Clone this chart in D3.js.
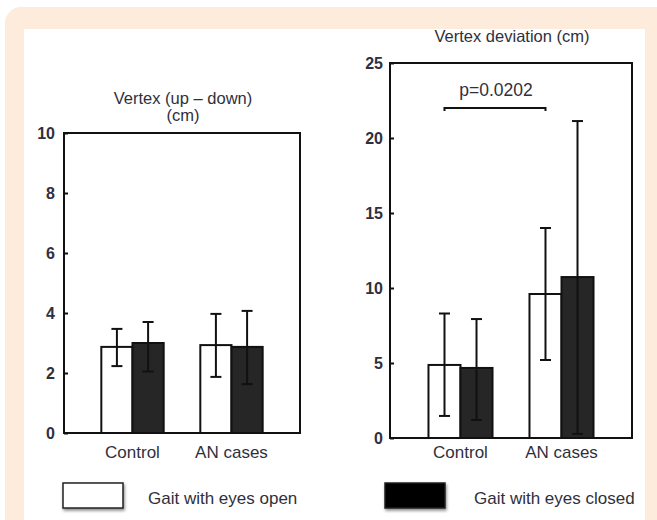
<!DOCTYPE html>
<html>
<head>
<meta charset="utf-8">
<script src="https://cdn.jsdelivr.net/npm/d3@7"></script>
<style>
  html, body { margin: 0; padding: 0; background: #ffffff; }
  svg { display: block; font-family: "Liberation Sans", Arial, sans-serif; }
</style>
</head>
<body>
<svg id="chart" width="657" height="520"></svg>
<script>
// ---------- data ----------
const categories = ["Control", "AN cases"];
const seriesNames = ["Gait with eyes open", "Gait with eyes closed"];

// Left panel: Vertex (up - down) (cm)
const upDownTicks = [0, 2, 4, 6, 8, 10];
const upDownOpen = [2.87, 2.93];
const upDownOpenLow = [2.23, 1.87];
const upDownOpenHigh = [3.47, 3.97];
const upDownClosed = [3.0, 2.87];
const upDownClosedLow = [2.05, 1.63];
const upDownClosedHigh = [3.7, 4.07];

// Right panel: Vertex deviation (cm)
const deviationTicks = [0, 5, 10, 15, 20, 25];
const deviationOpen = [4.87, 9.6];
const deviationOpenLow = [1.47, 5.2];
const deviationOpenHigh = [8.3, 14.0];
const deviationClosed = [4.67, 10.73];
const deviationClosedLow = [1.2, 0.27];
const deviationClosedHigh = [7.93, 21.13];

const pValueLabel = "p=0.0202";
const pValueLevel = 22;

// ---------- styling ----------
const textColor = "#30303c";
const darkFill = "#262626";
const seriesFill = ["#ffffff", darkFill];

const svg = d3.select("#chart");

// background frame
svg.append("rect").attr("x", 5).attr("y", 7).attr("width", 680).attr("height", 560)
  .attr("rx", 16).attr("fill", "#fdebdc");
svg.append("rect").attr("x", 24).attr("y", 29).attr("width", 621).attr("height", 520)
  .attr("fill", "#ffffff");

const defs = svg.append("defs");
const f = defs.append("filter").attr("id", "shadow").attr("x", "-20%").attr("y", "-20%")
  .attr("width", "150%").attr("height", "160%");
f.append("feDropShadow").attr("dx", 1).attr("dy", 2).attr("stdDeviation", 1.5)
  .attr("flood-color", "#000").attr("flood-opacity", 0.45);

function drawPanel(cfg) {
  const g = svg.append("g");
  const y = d3.scaleLinear().domain(cfg.domain).range([cfg.bottom, cfg.top]);
  const x0 = d3.scaleBand().domain(categories).range([cfg.left, cfg.right])
    .paddingInner(cfg.pi).paddingOuter(cfg.po);
  const x1 = d3.scaleBand().domain(seriesNames).range([0, x0.bandwidth()]);

  const rows = [];
  categories.forEach((c, i) => {
    cfg.series.forEach((s, j) => {
      rows.push({ cat: c, ser: seriesNames[j], v: s.mean[i], lo: s.low[i], hi: s.high[i], j });
    });
  });

  // bars
  g.selectAll("rect.bar").data(rows).join("rect").attr("class", "bar")
    .attr("x", d => x0(d.cat) + x1(d.ser))
    .attr("y", d => y(d.v))
    .attr("width", x1.bandwidth())
    .attr("height", d => y(0) - y(d.v))
    .attr("fill", d => seriesFill[d.j])
    .attr("stroke", "#111").attr("stroke-width", 2);

  // error bars
  const eb = g.selectAll("g.eb").data(rows).join("g").attr("class", "eb")
    .attr("transform", d => `translate(${x0(d.cat) + x1(d.ser) + x1.bandwidth() / 2},0)`);
  eb.append("line").attr("x1", 0).attr("x2", 0)
    .attr("y1", d => y(d.lo)).attr("y2", d => y(d.hi))
    .attr("stroke", "#111").attr("stroke-width", 2);
  eb.append("line").attr("x1", -5.5).attr("x2", 5.5)
    .attr("y1", d => y(d.hi)).attr("y2", d => y(d.hi))
    .attr("stroke", "#111").attr("stroke-width", 2);
  eb.append("line").attr("x1", -5.5).attr("x2", 5.5)
    .attr("y1", d => y(d.lo)).attr("y2", d => y(d.lo))
    .attr("stroke", "#111").attr("stroke-width", 2);

  // box
  g.append("rect").attr("x", cfg.left).attr("y", cfg.top)
    .attr("width", cfg.right - cfg.left).attr("height", cfg.bottom - cfg.top)
    .attr("fill", "none").attr("stroke", "#111").attr("stroke-width", 2);

  // y axis
  const ax = g.append("g").attr("transform", `translate(${cfg.left},0)`)
    .call(d3.axisLeft(y).tickValues(cfg.ticks).tickSizeInner(-4).tickSizeOuter(0)
      .tickPadding(cfg.tickPad));
  ax.select(".domain").remove();
  ax.selectAll(".tick line").attr("stroke", "#111").attr("stroke-width", 2);
  ax.selectAll(".tick text").attr("fill", textColor)
    .style("font-size", "16px").style("font-weight", "bold")
    .attr("font-family", null);

  // x labels
  g.selectAll("text.xl").data(categories).join("text").attr("class", "xl")
    .attr("x", d => x0(d) + x0.bandwidth() / 2)
    .attr("y", cfg.labelY)
    .attr("text-anchor", "middle").attr("fill", textColor)
    .style("font-size", "17px").text(d => d);

  // title
  const t = g.append("text").attr("text-anchor", "middle").attr("fill", textColor)
    .style("font-size", "16.5px");
  cfg.title.forEach((line, i) => {
    t.append("tspan").attr("x", (cfg.left + cfg.right) / 2 + 1)
      .attr("y", cfg.titleY + i * 17).text(line);
  });

  return { g, x0, x1, y };
}

drawPanel({
  left: 64, right: 300, top: 133, bottom: 433,
  domain: [0, 10], ticks: upDownTicks, tickPad: 9,
  pi: 0.37, po: 0.377, labelY: 458,
  title: ["Vertex (up \u2013 down)", "(cm)"], titleY: 104,
  series: [
    { mean: upDownOpen, low: upDownOpenLow, high: upDownOpenHigh },
    { mean: upDownClosed, low: upDownClosedLow, high: upDownClosedHigh }
  ]
});

const right = drawPanel({
  left: 390, right: 632, top: 63, bottom: 438,
  domain: [0, 25], ticks: deviationTicks, tickPad: 7,
  pi: 0.366, po: 0.381, labelY: 458,
  title: ["Vertex deviation (cm)"], titleY: 42,
  series: [
    { mean: deviationOpen, low: deviationOpenLow, high: deviationOpenHigh },
    { mean: deviationClosed, low: deviationClosedLow, high: deviationClosedHigh }
  ]
});

// significance bracket between open bars
{
  const { g, x0, x1, y } = right;
  const xa = x0(categories[0]) + x1(seriesNames[0]) + x1.bandwidth() / 2;
  const xb = x0(categories[1]) + x1(seriesNames[0]) + x1.bandwidth() / 2;
  const yy = y(pValueLevel);
  g.append("path")
    .attr("d", `M${xa},${yy + 3}L${xa},${yy}L${xb},${yy}L${xb},${yy + 3}`)
    .attr("fill", "none").attr("stroke", "#111").attr("stroke-width", 2);
  g.append("text").attr("x", (xa + xb) / 2 + 1).attr("y", yy - 12)
    .attr("text-anchor", "middle").attr("fill", textColor)
    .style("font-size", "17.5px").text(pValueLabel);
}

// legend
const legendItems = [
  { name: seriesNames[0], fill: seriesFill[0], bx: 63, tx: 148 },
  { name: seriesNames[1], fill: "#000000", bx: 385, tx: 474 }
];
const lg = svg.append("g");
legendItems.forEach(it => {
  lg.append("rect").attr("x", it.bx).attr("y", 483).attr("width", 60).attr("height", 25)
    .attr("fill", it.fill).attr("stroke", "#222").attr("stroke-width", 1.5)
    .attr("filter", "url(#shadow)");
  lg.append("text").attr("x", it.tx).attr("y", 504).attr("fill", textColor)
    .style("font-size", "17px").text(it.name);
});
</script>
</body>
</html>
